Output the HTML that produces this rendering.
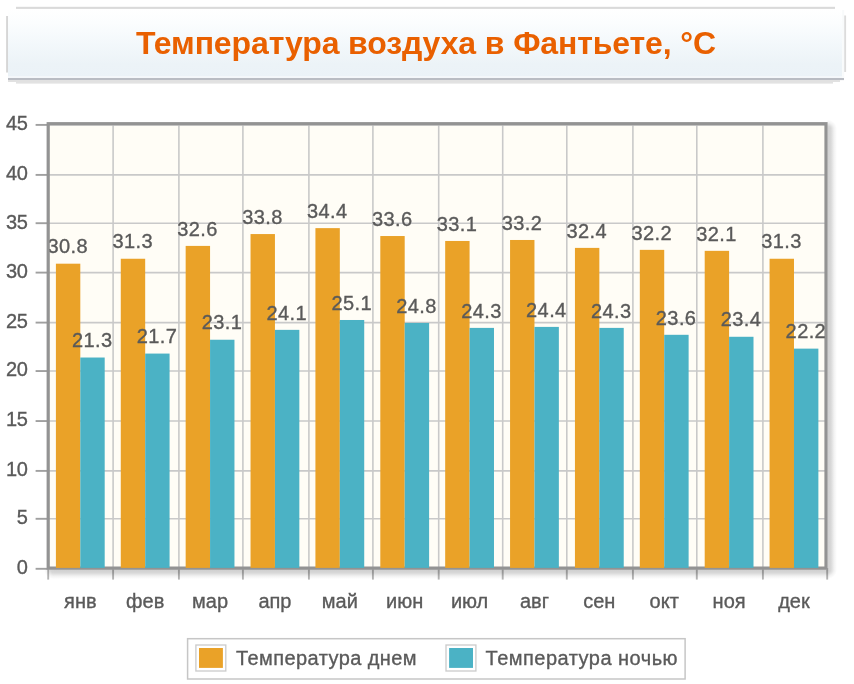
<!DOCTYPE html>
<html lang="ru"><head><meta charset="utf-8"><title>Температура воздуха в Фантьете, °C</title>
<style>
html,body{margin:0;padding:0;background:#fff;}
body{width:854px;height:684px;overflow:hidden;position:relative;font-family:"Liberation Sans",sans-serif;}
svg{position:absolute;left:0;top:0;display:block}
text{font-family:"Liberation Sans",sans-serif}
.yl,.xl,.pl,.lg{stroke:#5a5a5a;stroke-width:0.35px}
.tt{font-weight:bold;font-size:32px;fill:#e96000;letter-spacing:-0.12px}
.yl{font-size:20px;fill:#5a5a5a;text-anchor:end;letter-spacing:-0.5px}
.xl{font-size:20px;fill:#5a5a5a;text-anchor:middle}
.pl{font-size:20px;fill:#5a5a5a;text-anchor:middle;letter-spacing:0.4px}
.lg{font-size:20px;fill:#5a5a5a;letter-spacing:0.35px}
</style></head><body>
<svg width="854" height="684" viewBox="0 0 854 684">
<defs>
<linearGradient id="tg" x1="0" y1="0" x2="0" y2="1"><stop offset="0" stop-color="#ffffff"/><stop offset="0.2" stop-color="#fbfdfe"/><stop offset="0.5" stop-color="#f3f8fb"/><stop offset="0.8" stop-color="#ecf3f7"/><stop offset="1" stop-color="#ebf2f7"/></linearGradient>
<linearGradient id="sr" x1="0" y1="0" x2="1" y2="0"><stop offset="0" stop-color="#000" stop-opacity="0.19"/><stop offset="0.35" stop-color="#000" stop-opacity="0.155"/><stop offset="0.7" stop-color="#000" stop-opacity="0.05"/><stop offset="1" stop-color="#000" stop-opacity="0"/></linearGradient>
<linearGradient id="sb" x1="0" y1="0" x2="0" y2="1"><stop offset="0" stop-color="#000" stop-opacity="0.19"/><stop offset="0.35" stop-color="#000" stop-opacity="0.155"/><stop offset="0.7" stop-color="#000" stop-opacity="0.05"/><stop offset="1" stop-color="#000" stop-opacity="0"/></linearGradient>
<radialGradient id="sc" cx="0" cy="0" r="1"><stop offset="0" stop-color="#000" stop-opacity="0.19"/><stop offset="0.35" stop-color="#000" stop-opacity="0.155"/><stop offset="0.7" stop-color="#000" stop-opacity="0.05"/><stop offset="1" stop-color="#000" stop-opacity="0"/></radialGradient>
<radialGradient id="st" cx="0" cy="1" r="1"><stop offset="0" stop-color="#000" stop-opacity="0.19"/><stop offset="0.35" stop-color="#000" stop-opacity="0.155"/><stop offset="0.7" stop-color="#000" stop-opacity="0.05"/><stop offset="1" stop-color="#000" stop-opacity="0"/></radialGradient>
<radialGradient id="sl" cx="1" cy="0" r="1"><stop offset="0" stop-color="#000" stop-opacity="0.19"/><stop offset="0.35" stop-color="#000" stop-opacity="0.155"/><stop offset="0.7" stop-color="#000" stop-opacity="0.05"/><stop offset="1" stop-color="#000" stop-opacity="0"/></radialGradient>
<clipPath id="pc"><rect x="49.50" y="0" width="900" height="700"/></clipPath>
</defs>
<g>
<rect x="8" y="9" width="834.2" height="69" fill="url(#tg)"/>
<rect x="8" y="76" width="834.2" height="2" fill="#f4f7fa"/>
<rect x="842.2" y="10" width="2" height="68" fill="#f8fafb"/>
<rect x="16" y="6.8" width="819" height="2.1" fill="#dadada"/>
<rect x="6.1" y="16" width="1.9" height="56.5" fill="#d6d6d6"/>
<rect x="844.2" y="15.5" width="1.9" height="56.5" fill="#dcdcdc"/>
<rect x="8" y="78" width="836" height="2.1" fill="#b9bcc3"/>
<rect x="8" y="80.1" width="832" height="1.8" fill="#dedede"/>
<rect x="16" y="81.9" width="817" height="1.7" fill="#e2e2e2"/>
<text class="tt" x="426" y="54" text-anchor="middle">Температура воздуха в Фантьете, °C</text>
</g>
<rect x="48.20" y="123.70" width="777.80" height="444.40" fill="#fffdf6"/>
<line x1="48.20" y1="124.90" x2="826.00" y2="124.90" stroke="#c9c9c9" stroke-width="1.6"/>
<line x1="35.60" y1="124.90" x2="48.20" y2="124.90" stroke="#a0a0a0" stroke-width="1.9"/>
<line x1="48.20" y1="174.90" x2="826.00" y2="174.90" stroke="#c9c9c9" stroke-width="1.6"/>
<line x1="35.60" y1="174.90" x2="48.20" y2="174.90" stroke="#a0a0a0" stroke-width="1.9"/>
<line x1="48.20" y1="223.20" x2="826.00" y2="223.20" stroke="#c9c9c9" stroke-width="1.6"/>
<line x1="35.60" y1="223.20" x2="48.20" y2="223.20" stroke="#a0a0a0" stroke-width="1.9"/>
<line x1="48.20" y1="272.60" x2="826.00" y2="272.60" stroke="#c9c9c9" stroke-width="1.6"/>
<line x1="35.60" y1="272.60" x2="48.20" y2="272.60" stroke="#a0a0a0" stroke-width="1.9"/>
<line x1="48.20" y1="322.60" x2="826.00" y2="322.60" stroke="#c9c9c9" stroke-width="1.6"/>
<line x1="35.60" y1="322.60" x2="48.20" y2="322.60" stroke="#a0a0a0" stroke-width="1.9"/>
<line x1="48.20" y1="371.05" x2="826.00" y2="371.05" stroke="#c9c9c9" stroke-width="1.6"/>
<line x1="35.60" y1="371.05" x2="48.20" y2="371.05" stroke="#a0a0a0" stroke-width="1.9"/>
<line x1="48.20" y1="421.05" x2="826.00" y2="421.05" stroke="#c9c9c9" stroke-width="1.6"/>
<line x1="35.60" y1="421.05" x2="48.20" y2="421.05" stroke="#a0a0a0" stroke-width="1.9"/>
<line x1="48.20" y1="470.90" x2="826.00" y2="470.90" stroke="#c9c9c9" stroke-width="1.6"/>
<line x1="35.60" y1="470.90" x2="48.20" y2="470.90" stroke="#a0a0a0" stroke-width="1.9"/>
<line x1="48.20" y1="518.80" x2="826.00" y2="518.80" stroke="#c9c9c9" stroke-width="1.6"/>
<line x1="35.60" y1="518.80" x2="48.20" y2="518.80" stroke="#a0a0a0" stroke-width="1.9"/>
<line x1="48.20" y1="568.80" x2="826.00" y2="568.80" stroke="#c9c9c9" stroke-width="1.6"/>
<line x1="35.60" y1="568.80" x2="48.20" y2="568.80" stroke="#a0a0a0" stroke-width="1.9"/>
<line x1="48.20" y1="568.10" x2="48.20" y2="579.60" stroke="#b4b4b4" stroke-width="1.9"/>
<line x1="113.10" y1="123.70" x2="113.10" y2="568.10" stroke="#c9c9c9" stroke-width="1.6"/>
<line x1="113.10" y1="568.10" x2="113.10" y2="579.60" stroke="#b4b4b4" stroke-width="1.9"/>
<line x1="178.90" y1="123.70" x2="178.90" y2="568.10" stroke="#c9c9c9" stroke-width="1.6"/>
<line x1="178.90" y1="568.10" x2="178.90" y2="579.60" stroke="#b4b4b4" stroke-width="1.9"/>
<line x1="242.90" y1="123.70" x2="242.90" y2="568.10" stroke="#c9c9c9" stroke-width="1.6"/>
<line x1="242.90" y1="568.10" x2="242.90" y2="579.60" stroke="#b4b4b4" stroke-width="1.9"/>
<line x1="308.90" y1="123.70" x2="308.90" y2="568.10" stroke="#c9c9c9" stroke-width="1.6"/>
<line x1="308.90" y1="568.10" x2="308.90" y2="579.60" stroke="#b4b4b4" stroke-width="1.9"/>
<line x1="372.90" y1="123.70" x2="372.90" y2="568.10" stroke="#c9c9c9" stroke-width="1.6"/>
<line x1="372.90" y1="568.10" x2="372.90" y2="579.60" stroke="#b4b4b4" stroke-width="1.9"/>
<line x1="438.70" y1="123.70" x2="438.70" y2="568.10" stroke="#c9c9c9" stroke-width="1.6"/>
<line x1="438.70" y1="568.10" x2="438.70" y2="579.60" stroke="#b4b4b4" stroke-width="1.9"/>
<line x1="502.70" y1="123.70" x2="502.70" y2="568.10" stroke="#c9c9c9" stroke-width="1.6"/>
<line x1="502.70" y1="568.10" x2="502.70" y2="579.60" stroke="#b4b4b4" stroke-width="1.9"/>
<line x1="566.80" y1="123.70" x2="566.80" y2="568.10" stroke="#c9c9c9" stroke-width="1.6"/>
<line x1="566.80" y1="568.10" x2="566.80" y2="579.60" stroke="#b4b4b4" stroke-width="1.9"/>
<line x1="632.90" y1="123.70" x2="632.90" y2="568.10" stroke="#c9c9c9" stroke-width="1.6"/>
<line x1="632.90" y1="568.10" x2="632.90" y2="579.60" stroke="#b4b4b4" stroke-width="1.9"/>
<line x1="696.80" y1="123.70" x2="696.80" y2="568.10" stroke="#c9c9c9" stroke-width="1.6"/>
<line x1="696.80" y1="568.10" x2="696.80" y2="579.60" stroke="#b4b4b4" stroke-width="1.9"/>
<line x1="762.90" y1="123.70" x2="762.90" y2="568.10" stroke="#c9c9c9" stroke-width="1.6"/>
<line x1="762.90" y1="568.10" x2="762.90" y2="579.60" stroke="#b4b4b4" stroke-width="1.9"/>
<line x1="827.20" y1="568.10" x2="827.20" y2="579.60" stroke="#b4b4b4" stroke-width="1.9"/>
<rect x="827.40" y="129.20" width="9.60" height="440.30" fill="url(#sr)"/>
<rect x="53.70" y="569.50" width="773.70" height="9.60" fill="url(#sb)"/>
<rect x="827.40" y="569.50" width="9.60" height="9.60" fill="url(#sc)"/>
<rect x="827.40" y="119.60" width="9.60" height="9.60" fill="url(#st)"/>
<rect x="44.10" y="569.50" width="9.60" height="9.60" fill="url(#sl)"/>
<rect x="48.20" y="123.70" width="777.80" height="444.40" fill="none" stroke="#939393" stroke-width="3.2"/>
<rect x="55.90" y="263.69" width="24.40" height="304.21" fill="#eaa228"/>
<rect x="80.30" y="357.52" width="24.40" height="210.38" fill="#4bb2c5"/>
<rect x="120.78" y="258.75" width="24.40" height="309.15" fill="#eaa228"/>
<rect x="145.18" y="353.57" width="24.40" height="214.33" fill="#4bb2c5"/>
<rect x="185.66" y="245.91" width="24.40" height="321.99" fill="#eaa228"/>
<rect x="210.06" y="339.74" width="24.40" height="228.16" fill="#4bb2c5"/>
<rect x="250.54" y="234.06" width="24.40" height="333.84" fill="#eaa228"/>
<rect x="274.94" y="329.86" width="24.40" height="238.04" fill="#4bb2c5"/>
<rect x="315.42" y="228.13" width="24.40" height="339.77" fill="#eaa228"/>
<rect x="339.82" y="319.99" width="24.40" height="247.91" fill="#4bb2c5"/>
<rect x="380.30" y="236.03" width="24.40" height="331.87" fill="#eaa228"/>
<rect x="404.70" y="322.95" width="24.40" height="244.95" fill="#4bb2c5"/>
<rect x="445.18" y="240.97" width="24.40" height="326.93" fill="#eaa228"/>
<rect x="469.58" y="327.89" width="24.40" height="240.01" fill="#4bb2c5"/>
<rect x="510.06" y="239.98" width="24.40" height="327.92" fill="#eaa228"/>
<rect x="534.46" y="326.90" width="24.40" height="241.00" fill="#4bb2c5"/>
<rect x="574.94" y="247.89" width="24.40" height="320.01" fill="#eaa228"/>
<rect x="599.34" y="327.89" width="24.40" height="240.01" fill="#4bb2c5"/>
<rect x="639.82" y="249.86" width="24.40" height="318.04" fill="#eaa228"/>
<rect x="664.22" y="334.80" width="24.40" height="233.10" fill="#4bb2c5"/>
<rect x="704.70" y="250.85" width="24.40" height="317.05" fill="#eaa228"/>
<rect x="729.10" y="336.78" width="24.40" height="231.12" fill="#4bb2c5"/>
<rect x="769.58" y="258.75" width="24.40" height="309.15" fill="#eaa228"/>
<rect x="793.98" y="348.63" width="24.40" height="219.27" fill="#4bb2c5"/>
<text class="yl" x="27.3" y="130.30">45</text>
<text class="yl" x="27.3" y="180.30">40</text>
<text class="yl" x="27.3" y="228.60">35</text>
<text class="yl" x="27.3" y="278.00">30</text>
<text class="yl" x="27.3" y="328.00">25</text>
<text class="yl" x="27.3" y="376.45">20</text>
<text class="yl" x="27.3" y="426.45">15</text>
<text class="yl" x="27.3" y="476.30">10</text>
<text class="yl" x="27.3" y="524.20">5</text>
<text class="yl" x="27.3" y="574.20">0</text>
<text class="xl" x="80.30" y="607.7">янв</text>
<text class="xl" x="145.18" y="607.7">фев</text>
<text class="xl" x="210.06" y="607.7">мар</text>
<text class="xl" x="274.94" y="607.7">апр</text>
<text class="xl" x="339.82" y="607.7">май</text>
<text class="xl" x="404.70" y="607.7">июн</text>
<text class="xl" x="469.58" y="607.7">июл</text>
<text class="xl" x="534.46" y="607.7">авг</text>
<text class="xl" x="599.34" y="607.7">сен</text>
<text class="xl" x="664.22" y="607.7">окт</text>
<text class="xl" x="729.10" y="607.7">ноя</text>
<text class="xl" x="793.98" y="607.7">дек</text>
<g clip-path="url(#pc)">
<text class="pl" x="67.80" y="253.39">30.8</text>
<text class="pl" x="92.20" y="347.22">21.3</text>
<text class="pl" x="132.68" y="248.45">31.3</text>
<text class="pl" x="157.08" y="343.27">21.7</text>
<text class="pl" x="197.56" y="235.61">32.6</text>
<text class="pl" x="221.96" y="329.44">23.1</text>
<text class="pl" x="262.44" y="223.76">33.8</text>
<text class="pl" x="286.84" y="319.56">24.1</text>
<text class="pl" x="327.32" y="217.83">34.4</text>
<text class="pl" x="351.72" y="309.69">25.1</text>
<text class="pl" x="392.20" y="225.73">33.6</text>
<text class="pl" x="416.60" y="312.65">24.8</text>
<text class="pl" x="457.08" y="230.67">33.1</text>
<text class="pl" x="481.48" y="317.59">24.3</text>
<text class="pl" x="521.96" y="229.68">33.2</text>
<text class="pl" x="546.36" y="316.60">24.4</text>
<text class="pl" x="586.84" y="237.59">32.4</text>
<text class="pl" x="611.24" y="317.59">24.3</text>
<text class="pl" x="651.72" y="239.56">32.2</text>
<text class="pl" x="676.12" y="324.50">23.6</text>
<text class="pl" x="716.60" y="240.55">32.1</text>
<text class="pl" x="741.00" y="326.48">23.4</text>
<text class="pl" x="781.48" y="248.45">31.3</text>
<text class="pl" x="805.88" y="338.33">22.2</text>
</g>
<rect x="187.6" y="638.7" width="497.5" height="40.3" fill="#ffffff" stroke="#c6c6c6" stroke-width="1.5"/>
<rect x="195.9" y="645" width="29.9" height="26" fill="#ffffff" stroke="#cccccc" stroke-width="1.33"/>
<rect x="199" y="648" width="23.9" height="19.9" fill="#eaa228"/>
<text class="lg" x="236" y="665" style="letter-spacing:0.42px">Температура днем</text>
<rect x="446" y="645" width="29.9" height="26" fill="#ffffff" stroke="#cccccc" stroke-width="1.33"/>
<rect x="449.1" y="648" width="23.9" height="19.9" fill="#4bb2c5"/>
<text class="lg" x="485.6" y="665" style="letter-spacing:0.48px">Температура ночью</text>
</svg></body></html>
